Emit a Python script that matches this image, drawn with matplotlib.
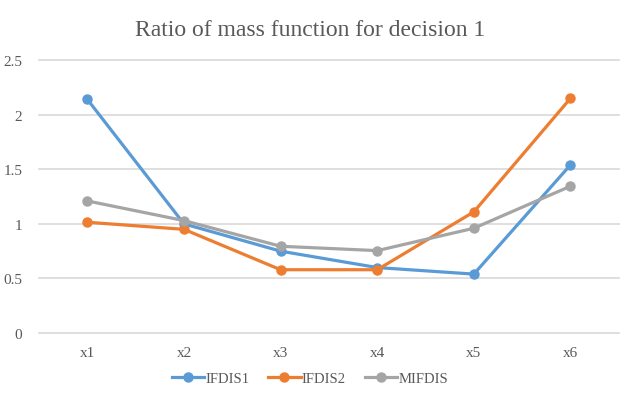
import matplotlib.pyplot as plt

categories = ["x1", "x2", "x3", "x4", "x5", "x6"]
ifdis1 = [2.14, 1.00, 0.75, 0.60, 0.54, 1.54]
ifdis2 = [1.015, 0.95, 0.58, 0.58, 1.11, 2.15]
mifdis = [1.21, 1.03, 0.795, 0.755, 0.96, 1.345]

plt.rcParams["font.family"] = ["Liberation Serif", "DejaVu Serif"]

fig = plt.figure(figsize=(6.2, 4.02), dpi=100)
ax = fig.add_axes([0.063, 0.169, 0.935, 0.679])

x = range(len(categories))
for vals, color, label in [
    (ifdis1, "#5b9bd5", "IFDIS1"),
    (ifdis2, "#ed7d31", "IFDIS2"),
    (mifdis, "#a5a5a5", "MIFDIS"),
]:
    ax.plot(x, vals, color=color, linewidth=2.3, marker="o", markersize=6.5, label=label)

ax.set_xlim(-0.5, len(categories) - 0.5)
ax.set_ylim(0, 2.5)
ax.set_yticks([0, 0.5, 1, 1.5, 2, 2.5])
ax.set_yticklabels(["0", "0.5", "1", "1.5", "2", "2.5"])
ax.set_xticks(list(x))
ax.set_xticklabels(categories)
for g in ax.get_yticks():
    ax.axhline(g, color="#d9d9d9", linewidth=1.2, zorder=0, clip_on=False)
for s in ax.spines.values():
    s.set_visible(False)
ax.tick_params(length=0, labelsize=11, colors="#595959", pad=9)
ax.tick_params(axis="y", pad=12)

fig.text(0.5, 0.925, "Ratio of mass function for decision 1", ha="center", va="center",
         fontsize=17, color="#595959")
fig.legend(loc="center", bbox_to_anchor=(0.5, 0.055), ncol=3, frameon=False,
           fontsize=10.5, labelcolor="#595959", handlelength=2.2, columnspacing=1.3,
           handletextpad=0.1)

fig.savefig("out.png", dpi=100)
